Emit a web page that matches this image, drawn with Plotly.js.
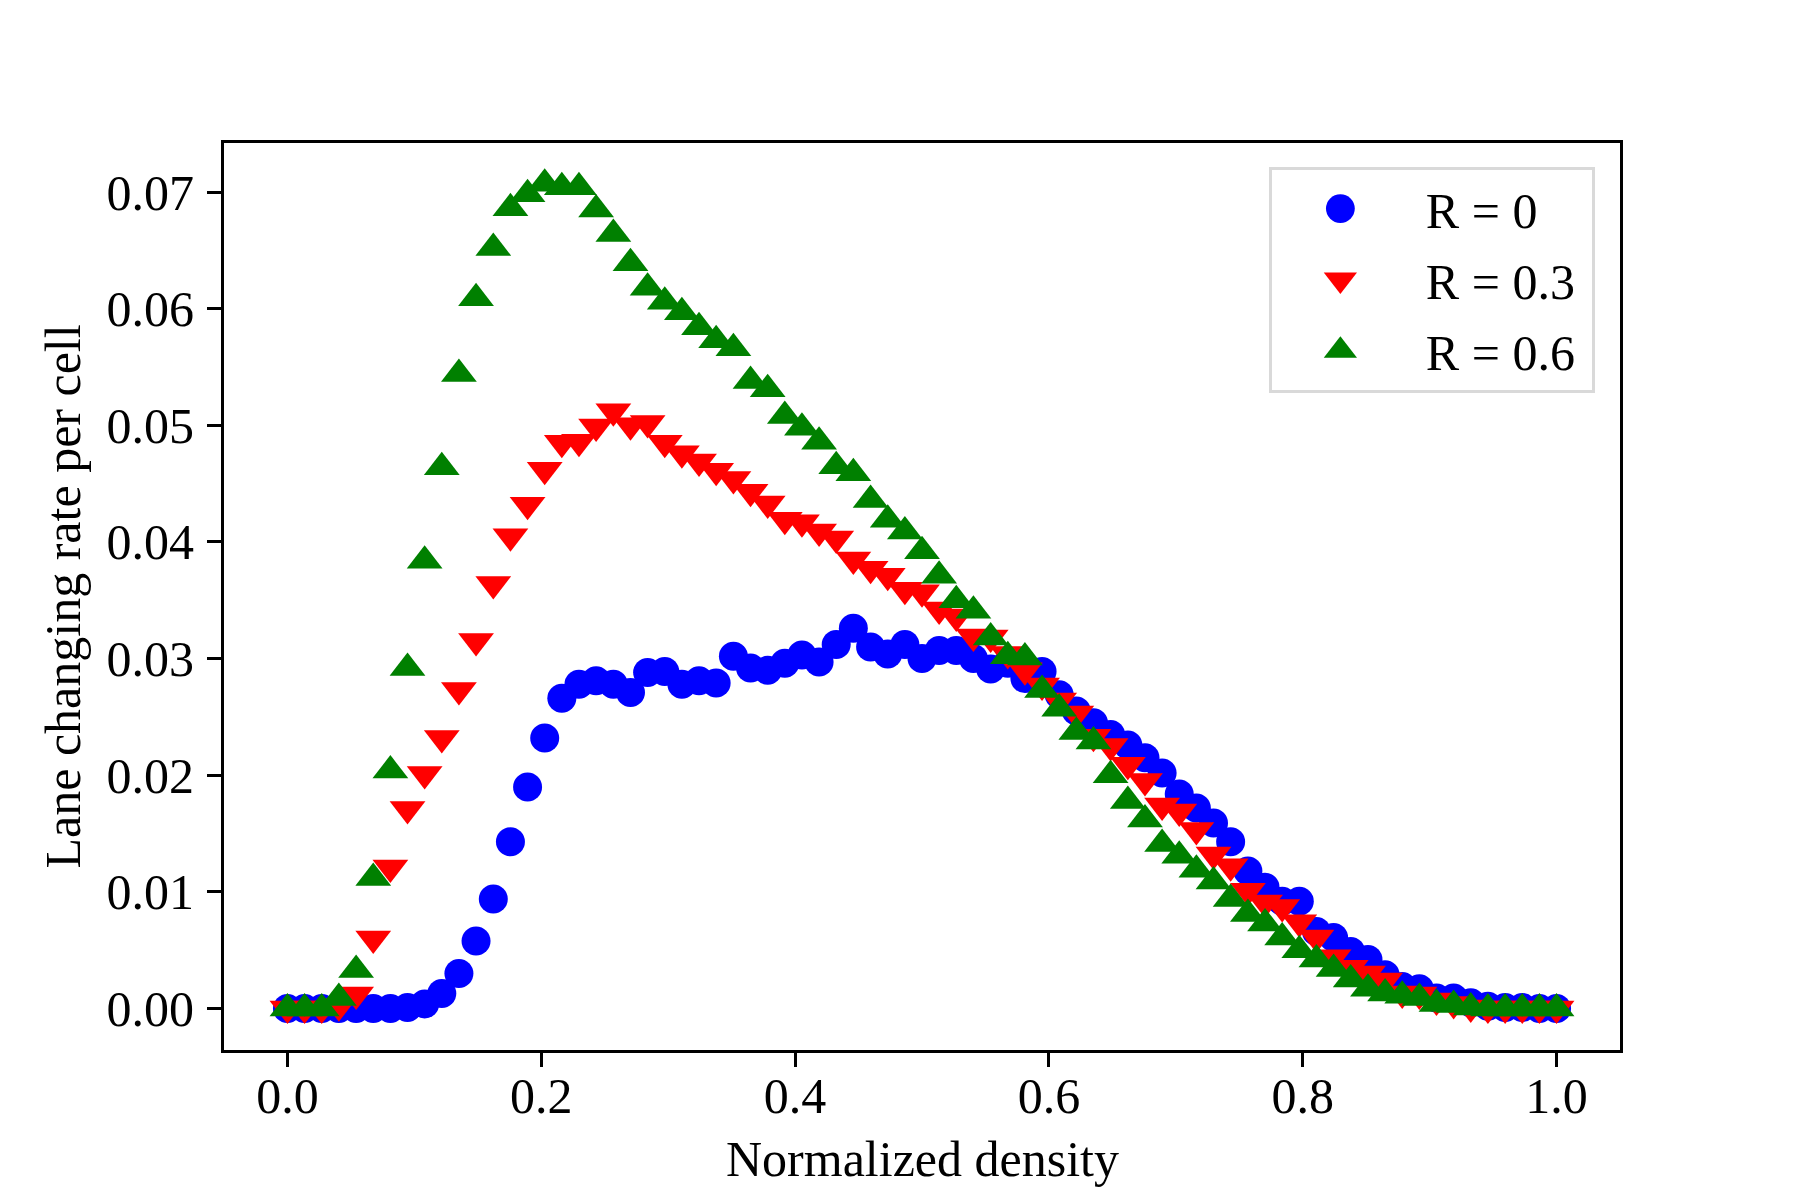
<!DOCTYPE html>
<html>
<head>
<meta charset="utf-8">
<script src="https://cdn.plot.ly/plotly-3.0.1.min.js"></script>
<style>
body { margin: 0; background: #ffffff; }
#plotter { width: 1800px; height: 1200px; }
</style>
</head>
<body>
<div id="plotter"></div>
<script>
// normalized density (x), 75 samples from 0 to 1
var density = [
    0.0000, 0.0135, 0.0270, 0.0405, 0.0541, 0.0676, 0.0811, 0.0946, 0.1081, 0.1216,
    0.1351, 0.1486, 0.1622, 0.1757, 0.1892, 0.2027, 0.2162, 0.2297, 0.2432, 0.2568,
    0.2703, 0.2838, 0.2973, 0.3108, 0.3243, 0.3378, 0.3514, 0.3649, 0.3784, 0.3919,
    0.4054, 0.4189, 0.4324, 0.4459, 0.4595, 0.4730, 0.4865, 0.5000, 0.5135, 0.5270,
    0.5405, 0.5541, 0.5676, 0.5811, 0.5946, 0.6081, 0.6216, 0.6351, 0.6486, 0.6622,
    0.6757, 0.6892, 0.7027, 0.7162, 0.7297, 0.7432, 0.7568, 0.7703, 0.7838, 0.7973,
    0.8108, 0.8243, 0.8378, 0.8514, 0.8649, 0.8784, 0.8919, 0.9054, 0.9189, 0.9324,
    0.9459, 0.9595, 0.9730, 0.9865, 1.0000
];

// lane changing rate per cell, R = 0
var rateR0 = [
    0, 0, 0, 0, 0, 0, 0, 0.0001, 0.0004, 0.0013,
    0.0030, 0.0058, 0.0094, 0.0143, 0.0190, 0.0232, 0.0266, 0.0278, 0.0281, 0.0278,
    0.0271, 0.0288, 0.0289, 0.0278, 0.0281, 0.0279, 0.0302, 0.0292, 0.0290, 0.0296,
    0.0303, 0.0297, 0.0312, 0.0326, 0.0310, 0.0304, 0.0312, 0.0300, 0.0307, 0.0307,
    0.0300, 0.0291, 0.0296, 0.0283, 0.0289, 0.0269, 0.0255, 0.0245, 0.0235, 0.0226,
    0.0215, 0.0202, 0.0184, 0.0172, 0.0159, 0.0143, 0.0118, 0.0104, 0.0092, 0.0092,
    0.0066, 0.0061, 0.0049, 0.0042, 0.0029, 0.0019, 0.0017, 0.0009, 0.0009, 0.0005,
    0.0002, 0.0001, 0.0001, 0, 0
];

// R = 0.3
var rateR03 = [
    0, 0, 0, 0.0002, 0.0012, 0.0060, 0.0121, 0.0171, 0.0201, 0.0232,
    0.0273, 0.0315, 0.0364, 0.0405, 0.0432, 0.0462, 0.0485, 0.0486, 0.0499, 0.0512,
    0.0500, 0.0502, 0.0485, 0.0476, 0.0469, 0.0461, 0.0454, 0.0443, 0.0433, 0.0419,
    0.0417, 0.0409, 0.0403, 0.0385, 0.0377, 0.0371, 0.0359, 0.0357, 0.0342, 0.0336,
    0.0319, 0.0318, 0.0304, 0.0290, 0.0277, 0.0264, 0.0253, 0.0233, 0.0225, 0.0209,
    0.0195, 0.0174, 0.0169, 0.0153, 0.0132, 0.0122, 0.0101, 0.0091, 0.0087, 0.0074,
    0.0061, 0.0044, 0.0035, 0.0030, 0.0024, 0.0013, 0.0012, 0.0007, 0.0004, 0.0001,
    0, 0, 0, 0, 0
];

// R = 0.6
var rateR06 = [
    0, 0, 0, 0.0009, 0.0033, 0.0112, 0.0204, 0.0292, 0.0384, 0.0464,
    0.0544, 0.0609, 0.0652, 0.0686, 0.0698, 0.0707, 0.0704, 0.0704, 0.0685, 0.0664,
    0.0639, 0.0618, 0.0606, 0.0597, 0.0584, 0.0573, 0.0566, 0.0538, 0.0531, 0.0508,
    0.0498, 0.0486, 0.0465, 0.0459, 0.0436, 0.0419, 0.0409, 0.0392, 0.0371, 0.0350,
    0.0341, 0.0318, 0.0302, 0.0301, 0.0273, 0.0257, 0.0237, 0.0229, 0.0200, 0.0178,
    0.0162, 0.0141, 0.0131, 0.0119, 0.0109, 0.0094, 0.0081, 0.0073, 0.0061, 0.0050,
    0.0042, 0.0034, 0.0025, 0.0017, 0.0013, 0.0011, 0.0009, 0.0004, 0.0003, 0.0001,
    0, 0, 0, 0, 0
];

var seriesNames = ['R = 0', 'R = 0.3', 'R = 0.6'];
var xTicks = [0, 0.2, 0.4, 0.6, 0.8, 1.0];
var yTicks = [0, 0.01, 0.02, 0.03, 0.04, 0.05, 0.06, 0.07];

var serif = 'Liberation Serif, Times New Roman, serif';
var textFont = { family: serif, size: 50, color: '#000000' };

var plots = [
    {
        x: density, y: rateR0, name: seriesNames[0], legendgroup: 'a',
        type: 'scatter', mode: 'markers',
        marker: { symbol: 'circle', size: 29, color: '#0000ff' }
    },
    {
        x: density, y: rateR03, name: seriesNames[1], legendgroup: 'b',
        type: 'scatter', mode: 'markers',
        marker: { symbol: 'triangle-down', size: 31, color: '#ff0000' }
    },
    {
        x: density, y: rateR06, name: seriesNames[2], legendgroup: 'c',
        type: 'scatter', mode: 'markers',
        marker: { symbol: 'triangle-up', size: 31, color: '#008000' }
    }
];

var axisCommon = {
    showgrid: false,
    zeroline: false,
    showline: true,
    mirror: true,
    linecolor: '#000000',
    linewidth: 3,
    ticks: 'outside',
    ticklen: 14,
    tickwidth: 3,
    tickcolor: '#000000',
    tickfont: textFont,
    automargin: false
};

var layout = {
    width: 1800,
    height: 1200,
    paper_bgcolor: '#ffffff',
    plot_bgcolor: '#ffffff',
    showlegend: true,
    legend: {
        x: 0.982,
        xanchor: 'right',
        y: 0.974,
        yanchor: 'top',
        traceorder: 'grouped',
        tracegroupgap: 3,
        bgcolor: '#ffffff',
        bordercolor: '#d9d9d9',
        borderwidth: 3,
        itemwidth: 155,
        font: textFont
    },
    xaxis: Object.assign({}, axisCommon, {
        range: [-0.05, 1.05],
        tickvals: xTicks,
        tickformat: '.1f',
        ticklabelstandoff: -14
    }),
    yaxis: Object.assign({}, axisCommon, {
        range: [-0.00355, 0.0742],
        tickvals: yTicks,
        tickformat: '.2f',
        ticklabelstandoff: 3
    }),
    // axis titles placed as annotations so the frame keeps its size
    annotations: [
        {
            text: 'Normalized density',
            xref: 'paper', yref: 'paper',
            x: 0.5, y: 0,
            xanchor: 'center', yanchor: 'middle',
            yshift: -109,
            showarrow: false,
            font: textFont
        },
        {
            text: 'Lane changing rate per cell',
            xref: 'paper', yref: 'paper',
            x: 0, y: 0.5,
            xanchor: 'center', yanchor: 'middle',
            xshift: -162,
            textangle: -90,
            showarrow: false,
            font: textFont
        }
    ],
    margin: {
        l: 224,
        r: 180,
        t: 143,
        b: 150
    }
};

Plotly.newPlot('plotter', plots, layout, { staticPlot: true }).then(function(gd) {
    // legend symbols are capped in size by plotly, nudge and scale them up to match the plot markers
    var pts = gd.querySelectorAll('.legend path.scatterpts');
    for (var i = 0; i < pts.length; i++) {
        var t = pts[i].getAttribute('transform') || '';
        pts[i].setAttribute('transform', t + ' translate(-14,0) scale(1.8)');
    }
    // pull the legend labels a little closer to their symbols
    var labels = gd.querySelectorAll('.legend text.legendtext');
    for (var j = 0; j < labels.length; j++) {
        var lx = parseFloat(labels[j].getAttribute('x')) || 0;
        labels[j].setAttribute('x', lx - 11);
    }
});
</script>
</body>
</html>
